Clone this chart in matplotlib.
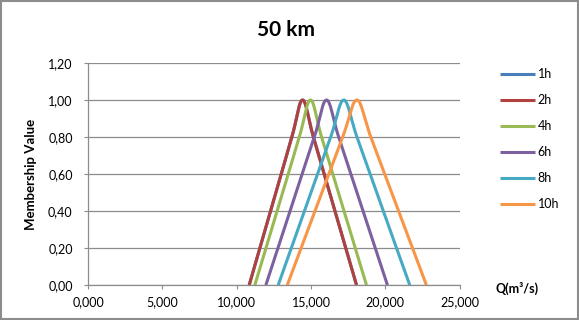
import numpy as np
import matplotlib
matplotlib.use("Agg")
from matplotlib import pyplot as plt

plt.rcParams['font.family'] = ['Lato', 'DejaVu Sans']

SERIES = ["1h", "2h", "4h", "6h", "8h", "10h"]
COLORS = ["#4A7EBB", "#B0413F", "#98B954", "#7D60A0", "#46AAC5", "#F79646"]

# discharge (m3/s) at each membership level
Q_1H = [10840, 12280, 13710, 14430, 15160, 16610, 18060]
Q_2H = [10840, 12280, 13710, 14430, 15160, 16610, 18060]
Q_4H = [11220, 12720, 14210, 14960, 15710, 17220, 18730]
Q_6H = [11960, 13590, 15220, 16040, 16860, 18500, 20140]
Q_8H = [12790, 14550, 16320, 17200, 18090, 19860, 21640]
Q_10H = [13400, 15260, 17130, 18080, 19020, 20890, 22760]
MU = [0.0, 0.4, 0.8, 1.0, 0.8, 0.4, 0.0]

X_TICKS = [0, 5000, 10000, 15000, 20000, 25000]
X_LABELS = ["0,000", "5,000", "10,000", "15,000", "20,000", "25,000"]
Y_TICKS = [0, 0.2, 0.4, 0.6, 0.8, 1.0, 1.2]
Y_LABELS = ["0,00", "0,20", "0,40", "0,60", "0,80", "1,00", "1,20"]


def smooth(x, y, n=30):
    # catmull-rom curve through the points, like excel's smoothed line
    x = np.asarray(x, float)
    y = np.asarray(y, float)
    px = np.concatenate([[x[0]], x, [x[-1]]])
    py = np.concatenate([[y[0]], y, [y[-1]]])
    xs, ys = [], []
    t = np.linspace(0, 1, n)
    for i in range(1, len(px) - 2):
        for p, out in ((px, xs), (py, ys)):
            p0, p1, p2, p3 = p[i - 1], p[i], p[i + 1], p[i + 2]
            out.extend(0.5 * (2 * p1 + (-p0 + p2) * t
                              + (2 * p0 - 5 * p1 + 4 * p2 - p3) * t ** 2
                              + (-p0 + 3 * p1 - 3 * p2 + p3) * t ** 3))
    return xs, ys


fig = plt.figure(figsize=(5.79, 3.2), dpi=100)
ax = fig.add_axes([0.152, 0.109, 0.642, 0.694])

for name, q, c in zip(SERIES, [Q_1H, Q_2H, Q_4H, Q_6H, Q_8H, Q_10H], COLORS):
    xs, ys = smooth(q, MU)
    ax.plot(xs, ys, color=c, lw=2.2, label=name, solid_capstyle="butt")

ax.set_xlim(0, 25000)
ax.set_ylim(0, 1.2)
ax.set_xticks(X_TICKS, X_LABELS)
ax.set_yticks(Y_TICKS, Y_LABELS)
ax.grid(axis="y", color="#8C8C8C", lw=0.9)
ax.set_axisbelow(True)
ax.tick_params(labelsize=9, length=3, color="#8C8C8C", labelcolor="#000000")
ax.tick_params(axis="y", pad=8)
ax.tick_params(axis="x", pad=5)
for s in ["top", "right"]:
    ax.spines[s].set_visible(False)
for s in ["left", "bottom"]:
    ax.spines[s].set_color("#8C8C8C")
    ax.spines[s].set_linewidth(0.9)

ax.set_ylabel("Membership Value", fontsize=9.5, fontweight="bold", labelpad=8)
fig.text(0.494, 0.905, "50 km", ha="center", va="center", fontsize=15, fontweight="bold")
fig.text(0.856, 0.1, "Q(m³/s)", ha="left", va="center", fontsize=9, fontweight="bold")

ax.legend(loc="upper left", bbox_to_anchor=(1.095, 1.0), frameon=False, fontsize=9,
          handlelength=2.8, handletextpad=0.2, labelspacing=1.12, borderaxespad=0)

fig.patches.append(plt.Rectangle((0.002, 0.003), 0.996, 0.994, transform=fig.transFigure,
                                 fill=False, edgecolor="#8C8C8C", lw=1.5))

fig.savefig("out.png", dpi=100)
